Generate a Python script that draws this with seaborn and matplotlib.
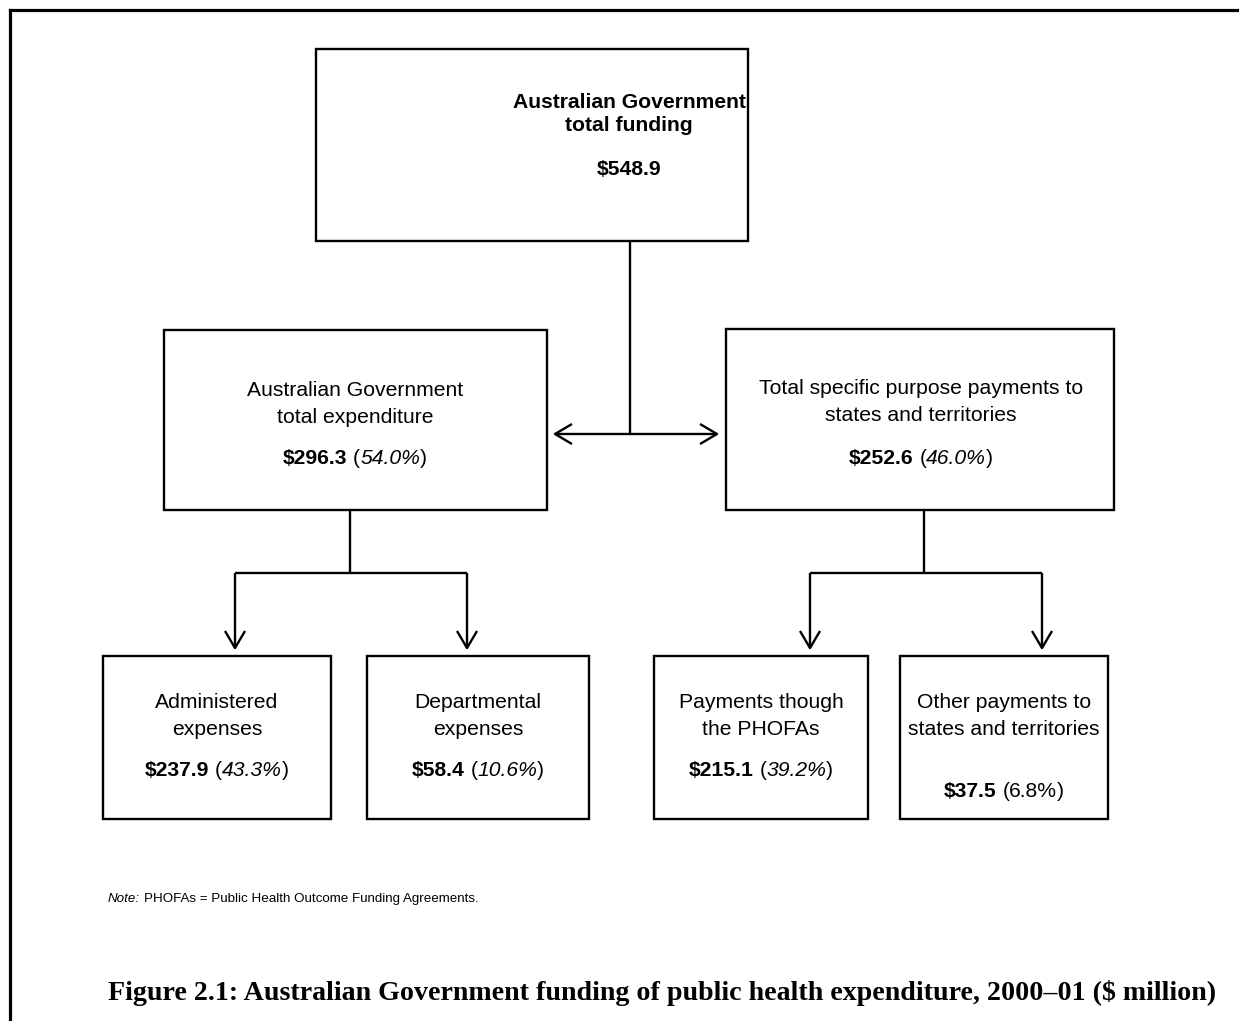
import matplotlib
matplotlib.use("Agg")
import matplotlib.pyplot as plt
import seaborn as sns
from matplotlib.patches import Rectangle

sns.set_theme(style="white")
plt.rcParams['font.family'] = ['Liberation Sans', 'DejaVu Sans']

# chart content
box_titles = [
    "Australian Government\ntotal funding",
    "Australian Government\ntotal expenditure",
    "Total specific purpose payments to\nstates and territories",
    "Administered\nexpenses",
    "Departmental\nexpenses",
    "Payments though\nthe PHOFAs",
    "Other payments to\nstates and territories",
]
amounts = [548.9, 296.3, 252.6, 237.9, 58.4, 215.1, 37.5]
shares = [None, 54.0, 46.0, 43.3, 10.6, 39.2, 6.8]
share_italic = [False, True, True, True, True, True, False]
note_lead = "Note:"
note_text = "PHOFAs = Public Health Outcome Funding Agreements."
caption = "Figure 2.1: Australian Government funding of public health expenditure, 2000\u201301 ($ million)"

# layout in pixels (x0, y0, x1, y1)
rects = [
    (316, 49, 748, 241),
    (164, 330, 547, 510),
    (726, 329, 1114, 510),
    (103, 656, 331, 819),
    (367, 656, 589, 819),
    (654, 656, 868, 819),
    (900, 656, 1108, 819),
]
text_cx = [629, 355, 921, 217, 478, 761, 1004]
title_base = [(108, 131), (396, 423), (394, 421), (708, 735), (708, 735), (708, 735), (708, 735)]
amount_base = [175, 464, 464, 776, 776, 776, 797]

W, H = 1239, 1021
fig = plt.figure(figsize=(W / 100, H / 100), dpi=100)
ax = fig.add_axes([0, 0, 1, 1])
ax.set_xlim(0, W)
ax.set_ylim(H, 0)
ax.axis('off')
renderer = fig.canvas.get_renderer()

FS = 15.2
LW = 1.7


def put_segments(x, y, segs, size, align='center', family=None):
    arts = []
    widths = []
    for s, wt, st in segs:
        if s == ' ':
            arts.append(None)
            widths.append(0.278 * size * 100 / 72)
            continue
        kw = {} if family is None else {'family': family}
        t = ax.text(0, y, s, fontsize=size, fontweight=wt, fontstyle=st,
                    ha='left', va='baseline', color='black', parse_math=False, **kw)
        arts.append(t)
        widths.append(t.get_window_extent(renderer).width)
    total = sum(widths)
    pos = x - total / 2 if align == 'center' else x
    for a, w in zip(arts, widths):
        if a is not None:
            a.set_x(pos)
        pos += w
    return total


# outer frame (left and top edges only visible)
ax.plot([10, 10], [H + 5, 10], color='black', lw=2.3, solid_capstyle='projecting')
ax.plot([10, W + 5], [10, 10], color='black', lw=2.3, solid_capstyle='projecting')

for i, (x0, y0, x1, y1) in enumerate(rects):
    ax.add_patch(Rectangle((x0, y0), x1 - x0, y1 - y0, fill=False,
                           edgecolor='black', lw=LW))
    lines = box_titles[i].split("\n")
    wt = 'bold' if i == 0 else 'normal'
    for ln, yb in zip(lines, title_base[i]):
        put_segments(text_cx[i], yb, [(ln, wt, 'normal')], FS)
    amt = "$%.1f" % amounts[i]
    if shares[i] is None:
        segs = [(amt, 'bold', 'normal')]
    else:
        st = 'italic' if share_italic[i] else 'normal'
        segs = [(amt, 'bold', 'normal'), (' ', None, None), ("(", 'normal', 'normal'),
                ("%.1f%%" % shares[i], 'normal', st), (")", 'normal', 'normal')]
    put_segments(text_cx[i], amount_base[i], segs, FS)


def line(xs, ys):
    ax.plot(xs, ys, color='black', lw=LW, solid_capstyle='butt')


def head_down(x, tip):
    line([x - 10, x, x + 10], [tip - 17, tip, tip - 17])


def head_side(tip, y, d):
    line([tip + d * 17, tip, tip + d * 17], [y - 10, y, y + 10])


# top stem and double arrow
line([630, 630], [241, 434])
line([555, 717], [434, 434])
head_side(555, 434, 1)
head_side(717, 434, -1)

# branches to lower boxes
for stem_x, bx, by in [(350, [235, 467], 510), (924, [810, 1042], 510)]:
    line([stem_x, stem_x], [by, 573])
    line([bx[0], bx[1]], [573, 573])
    for xx in bx:
        line([xx, xx], [573, 648])
        head_down(xx, 648)

# note
put_segments(108, 902, [(note_lead, 'normal', 'italic'), (' ', None, None),
                        (note_text, 'normal', 'normal')], 9.6, align='left')

# caption, fitted to the reference width
cap = ax.text(108, 1000, caption, fontsize=18, fontweight='bold',
              family=['Liberation Serif', 'DejaVu Serif'], ha='left', va='baseline',
              color='black', parse_math=False)
cw = cap.get_window_extent(renderer).width
cap.set_fontsize(18 * 1107 / cw)

fig.savefig("out.png", dpi=100)
